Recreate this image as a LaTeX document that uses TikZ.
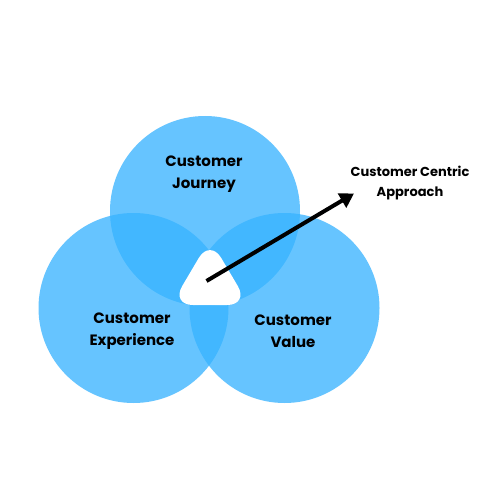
\documentclass[tikz,border=0pt]{standalone}
\usepackage{fontspec}
\setmainfont{Poppins}
\usetikzlibrary{arrows.meta}
\definecolor{venn}{RGB}{55,179,255}
\tikzset{
  vcircle/.style={circle, fill=venn, fill opacity=0.765, minimum size=190pt, inner sep=0pt},
  lbl/.style={font=\fontsize{15}{22}\selectfont\bfseries, align=center, text=black},
  small/.style={font=\fontsize{13}{20}\selectfont\bfseries, align=center, text=black},
  arr/.style={line width=4pt, -{Triangle[length=14pt,width=16pt]}}
}
\begin{document}
\begin{tikzpicture}[x=1pt,y=-1pt]
\useasboundingbox (0,0) rectangle (500,500);
\fill[white] (0,0) rectangle (500,500);
\node[vcircle] (journey) at (205,211) {};
\node[vcircle] (experience) at (133.5,308) {};
\node[vcircle] (value) at (284.5,308) {};
\fill[white, rounded corners=22pt] (210,239) -- (249,305) -- (171,305) -- cycle;
\coordinate (center) at (206.5,281);
\coordinate (tip) at (354,193.5);
\node[lbl] (tj) at (204,174.5) {Customer\\Journey};
\node[lbl] (te) at (132,331.5) {Customer\\Experience};
\node[lbl] (tv) at (293,331) {Customer\\Value};
\node[small] (tc) at (410,183) {Customer Centric\\Approach};
\draw[arr] (center) -- (tip);
\end{tikzpicture}
\end{document}
